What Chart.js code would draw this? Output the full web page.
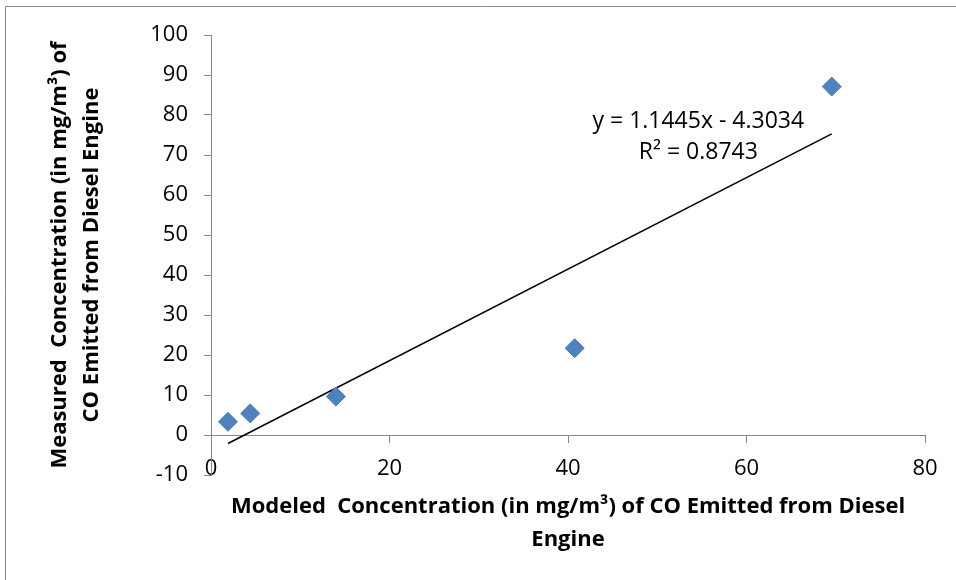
<!DOCTYPE html>
<html>
<head>
<meta charset="utf-8">
<script src="https://cdn.jsdelivr.net/npm/chart.js@4"></script>
<style>
  html, body { margin: 0; padding: 0; background: #fff; }
  #wrap { width: 956px; height: 580px; position: relative; }
</style>
</head>
<body>
<div id="wrap"><canvas id="chart" width="956" height="580"></canvas></div>
<script>
// Modeled vs measured CO concentration (mg/m3)
const modeled = [1.9, 4.4, 14.0, 40.75, 69.55];
const measured = [3.3, 5.4, 9.6, 21.7, 87.1];

// linear trendline shown on the chart
const slope = 1.1445;
const intercept = -4.3034;
const rSquared = 0.8743;

const xTicks = [0, 20, 40, 60, 80];
const yTicks = [-10, 0, 10, 20, 30, 40, 50, 60, 70, 80, 90, 100];

const xTitle = ['Modeled  Concentration (in mg/m\u00b3) of CO Emitted from Diesel', 'Engine'];
const yTitle = ['Measured  Concentration (in mg/m\u00b3) of', 'CO Emitted from Diesel Engine'];

const points = modeled.map((x, i) => ({ x: x, y: measured[i] }));
const xMin = Math.min(...modeled);
const xMax = Math.max(...modeled);
const trend = [
    { x: xMin, y: slope * xMin + intercept },
    { x: xMax, y: slope * xMax + intercept }
];

const FONT = '"Open Sans", Lato, sans-serif';
const AXIS_GREY = '#878787';

// grey outer frame + equation label
const extras = {
    id: 'extras',
    beforeDraw(chart) {
        const ctx = chart.ctx;
        ctx.save();
        ctx.strokeStyle = AXIS_GREY;
        ctx.lineWidth = 1;
        ctx.beginPath();
        ctx.moveTo(5.5, 580);
        ctx.lineTo(5.5, 6.5);
        ctx.lineTo(956, 6.5);
        ctx.stroke();
        ctx.restore();
    },
    afterDraw(chart) {
        const ctx = chart.ctx;
        const xs = chart.scales.x;
        const ys = chart.scales.y;
        ctx.save();
        ctx.fillStyle = '#000';
        ctx.font = '23px ' + FONT;
        ctx.textAlign = 'center';
        ctx.textBaseline = 'middle';
        // label sits above the right end of the trendline
        const cx = xs.getPixelForValue(54.6);
        const cy = ys.getPixelForValue(78.5);
        ctx.fillText('y = ' + slope + 'x - ' + Math.abs(intercept), cx, cy);
        ctx.fillText('R\u00b2 = ' + rSquared, cx, cy + 31);
        ctx.restore();
    }
};

new Chart(document.getElementById('chart'), {
    type: 'scatter',
    data: {
        datasets: [
            {
                label: 'Measured',
                data: points,
                pointStyle: 'rectRot',
                pointRadius: 9.5,
                pointBackgroundColor: '#4F81BD',
                pointBorderColor: '#4A7EBB',
                pointBorderWidth: 1,
                showLine: false
            },
            {
                label: 'Linear',
                data: trend,
                showLine: true,
                borderColor: '#000',
                borderWidth: 1.5,
                pointRadius: 0,
                fill: false
            }
        ]
    },
    options: {
        responsive: false,
        animation: false,
        layout: { padding: { left: 44, top: 35, right: 31, bottom: 105 } },
        plugins: {
            legend: { display: false },
            tooltip: { enabled: false }
        },
        scales: {
            x: {
                type: 'linear',
                position: { y: 0 },
                min: 0,
                max: 80,
                afterBuildTicks: (s) => { s.ticks = xTicks.map(v => ({ value: v })); },
                ticks: {
                    color: '#000',
                    font: { family: FONT, size: 22 },
                    padding: 14
                },
                grid: {
                    drawOnChartArea: false,
                    drawTicks: true,
                    tickLength: 7,
                    color: AXIS_GREY
                },
                border: { display: true, color: AXIS_GREY, width: 1 },
                title: {
                    display: true,
                    text: xTitle,
                    color: '#000',
                    font: { family: FONT, size: 22, weight: 'bold', lineHeight: 1.5 },
                    padding: { top: -6 }
                }
            },
            y: {
                type: 'linear',
                position: 'left',
                min: -10,
                max: 100,
                afterBuildTicks: (s) => { s.ticks = yTicks.map(v => ({ value: v })); },
                afterFit: (s) => { s.width = 167; },
                ticks: {
                    color: '#000',
                    font: { family: FONT, size: 22 },
                    padding: 16
                },
                grid: {
                    drawOnChartArea: false,
                    drawTicks: true,
                    tickLength: 7,
                    color: AXIS_GREY
                },
                border: { display: true, color: AXIS_GREY, width: 1 },
                title: {
                    display: true,
                    text: yTitle,
                    color: '#000',
                    font: { family: FONT, size: 22, weight: 'bold', lineHeight: 1.45 },
                    padding: 0
                }
            }
        }
    },
    plugins: [extras]
});
</script>
</body>
</html>
